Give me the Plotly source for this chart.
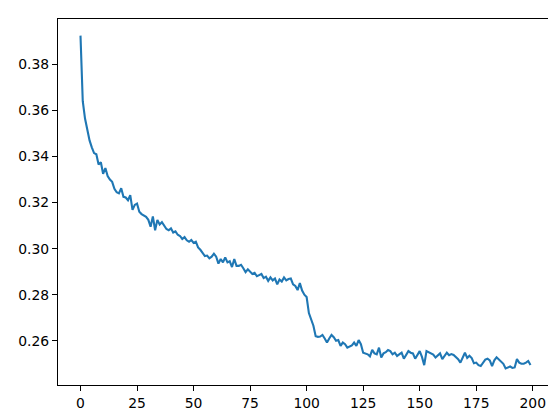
import plotly.graph_objects as go

epochs = list(range(200))
loss = [
    0.3925, 0.3640, 0.3565, 0.3510, 0.3470, 0.3440, 0.3415, 0.3410, 0.3365, 0.3375,
    0.3325, 0.3350, 0.3315, 0.3300, 0.3290, 0.3260, 0.3245, 0.3240, 0.3262, 0.3225,
    0.3222, 0.3210, 0.3232, 0.3168, 0.3190, 0.3196, 0.3160, 0.3150, 0.3145, 0.3138,
    0.3125, 0.3095, 0.3140, 0.3080, 0.3125, 0.3105, 0.3115, 0.3100, 0.3085, 0.3080,
    0.3088, 0.3070, 0.3075, 0.3060, 0.3055, 0.3042, 0.3050, 0.3036, 0.3030, 0.3038,
    0.3025, 0.3030, 0.3005, 0.2995, 0.2983, 0.2968, 0.2970, 0.2958, 0.2965, 0.2978,
    0.2965, 0.2935, 0.2955, 0.2940, 0.2962, 0.2940, 0.2945, 0.2920, 0.2955, 0.2925,
    0.2925, 0.2930, 0.2915, 0.2898, 0.2910, 0.2900, 0.2890, 0.2895, 0.2880, 0.2885,
    0.2890, 0.2872, 0.2878, 0.2860, 0.2875, 0.2862, 0.2870, 0.2845, 0.2866, 0.2857,
    0.2875, 0.2862, 0.2868, 0.2870, 0.2845, 0.2838, 0.2820, 0.2850, 0.2818, 0.2800,
    0.2790, 0.2720, 0.2690, 0.2665, 0.2620, 0.2617, 0.2618, 0.2625, 0.2610, 0.2592,
    0.2610, 0.2625, 0.2615, 0.2600, 0.2603, 0.2578, 0.2592, 0.2585, 0.2570, 0.2575,
    0.2580, 0.2592, 0.2578, 0.2603, 0.2585, 0.2548, 0.2545, 0.2541, 0.2532, 0.2560,
    0.2545, 0.2541, 0.2570, 0.2527, 0.2545, 0.2550, 0.2560, 0.2555, 0.2541, 0.2548,
    0.2534, 0.2542, 0.2548, 0.2522, 0.2540, 0.2555, 0.2548, 0.2545, 0.2522, 0.2540,
    0.2555, 0.2530, 0.2494, 0.2555, 0.2550, 0.2545, 0.2540, 0.2527, 0.2535, 0.2545,
    0.2520, 0.2535, 0.2548, 0.2537, 0.2542, 0.2538, 0.2530, 0.2520, 0.2505, 0.2530,
    0.2548, 0.2525, 0.2535, 0.2525, 0.2502, 0.2505, 0.2494, 0.2490, 0.2505, 0.2518,
    0.2522, 0.2515, 0.2490, 0.2515, 0.2528, 0.2518, 0.2510, 0.2500, 0.2480, 0.2484,
    0.2488, 0.2482, 0.2484, 0.2520, 0.2505, 0.2500, 0.2500, 0.2505, 0.2512, 0.2495,
]

x_ticks = [0, 25, 50, 75, 100, 125, 150, 175, 200]
y_ticks = [0.26, 0.28, 0.30, 0.32, 0.34, 0.36, 0.38]
y_tick_labels = ["0.26", "0.28", "0.30", "0.32", "0.34", "0.36", "0.38"]

fig = go.Figure()
fig.add_trace(go.Scatter(x=epochs, y=loss, mode="lines",
                         line=dict(color="#1f77b4", width=2.1)))

xmin, xmax = min(epochs), max(epochs)
ymin, ymax = min(loss), max(loss)
xpad = 0.05 * (xmax - xmin)
ypad = 0.05 * (ymax - ymin)

axis_style = dict(showgrid=False, zeroline=False, showline=True, linecolor="black",
                  linewidth=1, mirror=True, ticks="outside", ticklen=5,
                  tickcolor="black", tickwidth=1,
                  tickfont=dict(family="DejaVu Sans", size=13.9, color="black"))

fig.update_layout(
    width=556, height=413,
    margin=dict(l=50, r=10, t=11, b=34),
    paper_bgcolor="white", plot_bgcolor="white",
    showlegend=False,
    xaxis=dict(range=[xmin - xpad, xmax + xpad], tickvals=x_ticks,
               ticktext=[str(t) for t in x_ticks], **axis_style),
    yaxis=dict(range=[ymin - ypad, ymax + ypad], tickvals=y_ticks,
               ticktext=y_tick_labels, **axis_style),
)

fig.write_html("out.html")
